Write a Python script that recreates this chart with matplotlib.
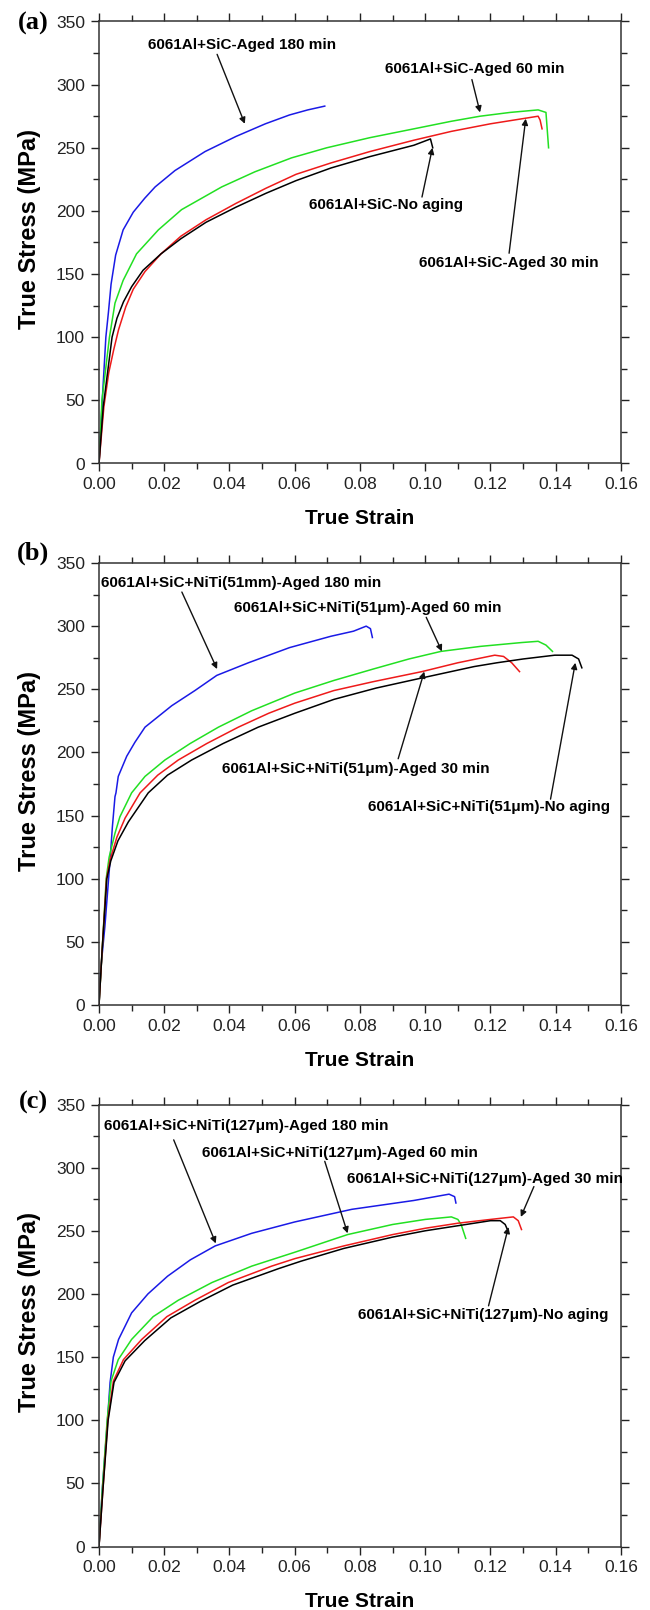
import matplotlib
matplotlib.use("Agg")
import matplotlib.pyplot as plt
from matplotlib.ticker import MultipleLocator, FormatStrFormatter

plt.rcParams['font.family'] = ['Liberation Sans', 'DejaVu Sans']

# ---- panel (a): 6061Al+SiC ----
blue_a_x = [0, 0.0010, 0.0021, 0.0029, 0.0037, 0.0051, 0.0074, 0.0105, 0.0140, 0.0172, 0.0233,
            0.0325, 0.0420, 0.0510, 0.0584, 0.0640, 0.0692]
blue_a_y = [0, 50, 100, 120, 142, 165, 185, 199, 210, 219, 232, 247, 259, 269, 276, 280, 283]
green_a_x = [0, 0.0009, 0.0032, 0.0049, 0.0074, 0.0115, 0.0182, 0.0253, 0.0376, 0.0478, 0.0590,
             0.0698, 0.0830, 0.0965, 0.1080, 0.1168, 0.1260, 0.1346, 0.1370, 0.1378]
green_a_y = [0, 50, 100, 127, 145, 166, 185, 201, 219, 231, 242, 250, 258, 265, 271, 275, 278, 280, 278, 250]
red_a_x = [0, 0.0015, 0.0030, 0.0045, 0.0060, 0.0082, 0.0105, 0.0141, 0.0190, 0.0251, 0.0328,
           0.0420, 0.0512, 0.0604, 0.0711, 0.0830, 0.0965, 0.1080, 0.1200, 0.1346, 0.1352, 0.1358]
red_a_y = [0, 45, 72, 90, 106, 124, 138, 152, 166, 180, 193, 206, 218, 229, 238, 247, 256, 263,
           269, 275, 272, 265]
black_a_x = [0, 0.0013, 0.0040, 0.0055, 0.0075, 0.0100, 0.0135, 0.0190, 0.0251, 0.0328, 0.0420,
             0.0512, 0.0604, 0.0711, 0.0830, 0.0965, 0.1016, 0.1023]
black_a_y = [0, 45, 100, 115, 128, 140, 153, 166, 178, 191, 203, 214, 224, 234, 243, 252, 257, 250]
labels_a = ["6061Al+SiC-Aged 180 min", "6061Al+SiC-Aged 60 min",
            "6061Al+SiC-No aging", "6061Al+SiC-Aged 30 min"]

# ---- panel (b): 6061Al+SiC+NiTi(51um) ----
blue_b_x = [0, 0.0006, 0.0018, 0.0034, 0.0041, 0.0049, 0.0052, 0.0059, 0.0085, 0.0110, 0.0141,
            0.0223, 0.0294, 0.0361, 0.0458, 0.0584, 0.0711, 0.0780, 0.0819, 0.0832, 0.0838]
blue_b_y = [0, 30, 62, 115, 141, 165, 168, 181, 197, 208, 220, 237, 249, 261, 271, 283, 292, 296,
            300, 298, 291]
green_b_x = [0, 0.0010, 0.0022, 0.0031, 0.0049, 0.0064, 0.0100, 0.0141, 0.0202, 0.0279, 0.0366,
             0.0468, 0.0600, 0.0720, 0.0840, 0.0950, 0.1048, 0.1170, 0.1295, 0.1346, 0.1370, 0.1390]
green_b_y = [0, 45, 100, 117, 136, 149, 168, 181, 194, 207, 220, 233, 247, 257, 266, 274, 280, 284,
             287, 288, 285, 280]
red_b_x = [0, 0.0010, 0.0023, 0.0034, 0.0055, 0.0080, 0.0126, 0.0180, 0.0243, 0.0330, 0.0427,
           0.0520, 0.0600, 0.0720, 0.0840, 0.0990, 0.1100, 0.1213, 0.1240, 0.1265, 0.1289]
red_b_y = [0, 45, 100, 115, 133, 148, 168, 182, 194, 207, 220, 231, 239, 249, 256, 264, 271, 277,
           276, 271, 264]
black_b_x = [0, 0.0010, 0.0024, 0.0036, 0.0058, 0.0090, 0.0151, 0.0210, 0.0284, 0.0380, 0.0488,
             0.0600, 0.0720, 0.0850, 0.0990, 0.1150, 0.1220, 0.1300, 0.1397, 0.1450, 0.1470, 0.1480]
black_b_y = [0, 45, 100, 114, 130, 145, 168, 182, 194, 207, 220, 231, 242, 251, 259, 268, 271, 274,
             277, 277, 274, 267]
labels_b = ["6061Al+SiC+NiTi(51mm)-Aged 180 min", "6061Al+SiC+NiTi(51\u03bcm)-Aged 60 min",
            "6061Al+SiC+NiTi(51\u03bcm)-Aged 30 min", "6061Al+SiC+NiTi(51\u03bcm)-No aging"]

# ---- panel (c): 6061Al+SiC+NiTi(127um) ----
blue_c_x = [0, 0.0010, 0.0026, 0.0034, 0.0044, 0.0060, 0.0100, 0.0150, 0.0210, 0.0280, 0.0356,
            0.0468, 0.0600, 0.0775, 0.0965, 0.1073, 0.1090, 0.1094]
blue_c_y = [0, 45, 100, 130, 150, 164, 185, 200, 214, 227, 238, 248, 257, 267, 274, 279, 277, 272]
green_c_x = [0, 0.0010, 0.0025, 0.0037, 0.0059, 0.0100, 0.0166, 0.0243, 0.0346, 0.0468, 0.0600,
             0.0762, 0.0900, 0.1000, 0.1080, 0.1100, 0.1110, 0.1124]
green_c_y = [0, 45, 100, 131, 148, 164, 182, 195, 209, 222, 233, 247, 255, 259, 261, 259, 255, 244]
red_c_x = [0, 0.0012, 0.0027, 0.0044, 0.0075, 0.0131, 0.0208, 0.0294, 0.0396, 0.0529, 0.0601,
           0.0750, 0.0900, 0.1000, 0.1100, 0.1200, 0.1270, 0.1285, 0.1295]
red_c_y = [0, 45, 100, 131, 148, 164, 182, 195, 209, 222, 228, 238, 247, 252, 256, 259, 261, 258, 251]
black_c_x = [0, 0.0012, 0.0028, 0.0046, 0.0080, 0.0140, 0.0220, 0.0310, 0.0410, 0.0550, 0.0620,
             0.0750, 0.0900, 0.1000, 0.1100, 0.1200, 0.1230, 0.1245, 0.1250]
black_c_y = [0, 45, 100, 130, 147, 163, 181, 194, 207, 220, 226, 236, 245, 250, 254, 258, 258, 255, 252]
labels_c = ["6061Al+SiC+NiTi(127\u03bcm)-Aged 180 min", "6061Al+SiC+NiTi(127\u03bcm)-Aged 60 min",
            "6061Al+SiC+NiTi(127\u03bcm)-Aged 30 min", "6061Al+SiC+NiTi(127\u03bcm)-No aging"]

# text centre, arrow tail, arrow head (data coords) for each label
notes_a = [((0.0438, 331), (0.0362, 324), (0.0447, 269)),
           ((0.1153, 312), (0.1143, 304), (0.1168, 278)),
           ((0.0879, 204.5), (0.0990, 211), (0.1022, 250)),
           ((0.1255, 158.6), (0.1257, 166.5), (0.1308, 273))]
notes_b = [((0.0436, 334.3), (0.0254, 327), (0.0362, 266)),
           ((0.0825, 314), (0.1003, 307), (0.1051, 280)),
           ((0.0787, 187.2), (0.0917, 195), (0.0997, 264)),
           ((0.1194, 156.6), (0.1384, 163), (0.1460, 271))]
notes_c = [((0.0451, 332.7), (0.0229, 322), (0.0358, 240)),
           ((0.0739, 311.5), (0.0692, 305), (0.0762, 248)),
           ((0.1184, 291), (0.1333, 285), (0.1293, 261)),
           ((0.1178, 183.5), (0.1194, 190.6), (0.1255, 253))]

colors = ['#1a1ae6', '#22e022', '#ee1a1a', '#000000']

W, H = 650, 1610
fig = plt.figure(figsize=(W / 100, H / 100), dpi=100)


def panel(bottom_px, tag, tag_px, curves, labels, notes):
    ax = fig.add_axes([99 / W, 1 - bottom_px / H, 522 / W, 442 / H])
    for (x, y), c in zip(curves, colors):
        ax.plot(x, y, color=c, lw=1.1)
    ax.set_xlim(0, 0.16)
    ax.set_ylim(0, 350)
    ax.xaxis.set_major_locator(MultipleLocator(0.02))
    ax.xaxis.set_minor_locator(MultipleLocator(0.01))
    ax.yaxis.set_major_locator(MultipleLocator(50))
    ax.yaxis.set_minor_locator(MultipleLocator(25))
    ax.xaxis.set_major_formatter(FormatStrFormatter('%.2f'))
    ax.tick_params(which='both', direction='out', top=True, right=True, width=1,
                   labelsize=12.5, colors='#222222')
    ax.tick_params(which='major', length=6, pad=4)
    ax.tick_params(which='minor', length=4)
    for s in ax.spines.values():
        s.set_linewidth(1.1)
        s.set_color('#333333')
    ax.set_xlabel('True Strain', fontsize=15, fontweight='bold', va='center')
    ax.xaxis.set_label_coords(0.5, -55 / 442)
    ax.set_ylabel('True Stress (MPa)', fontsize=17, fontweight='bold', va='center')
    ax.yaxis.set_label_coords(-70 / 522, 0.53)
    for lab, (txt, tail, head) in zip(labels, notes):
        ax.text(txt[0], txt[1], lab, fontsize=11, fontweight='bold', ha='center', va='center')
        ax.annotate('', xy=head, xytext=tail,
                    arrowprops=dict(arrowstyle='-|>', color='#111111', lw=1.0,
                                    mutation_scale=9, shrinkA=0, shrinkB=0))
    fig.text(33 / W, 1 - tag_px / H, tag, fontsize=19, fontweight='bold',
             family=['Liberation Serif', 'DejaVu Serif'], ha='center', va='center')
    return ax


panel(463.5, '(a)', 23, [(blue_a_x, blue_a_y), (green_a_x, green_a_y),
                         (red_a_x, red_a_y), (black_a_x, black_a_y)], labels_a, notes_a)
panel(1005, '(b)', 553, [(blue_b_x, blue_b_y), (green_b_x, green_b_y),
                         (red_b_x, red_b_y), (black_b_x, black_b_y)], labels_b, notes_b)
panel(1546.5, '(c)', 1102, [(blue_c_x, blue_c_y), (green_c_x, green_c_y),
                            (red_c_x, red_c_y), (black_c_x, black_c_y)], labels_c, notes_c)

fig.savefig('out.png', dpi=100)
